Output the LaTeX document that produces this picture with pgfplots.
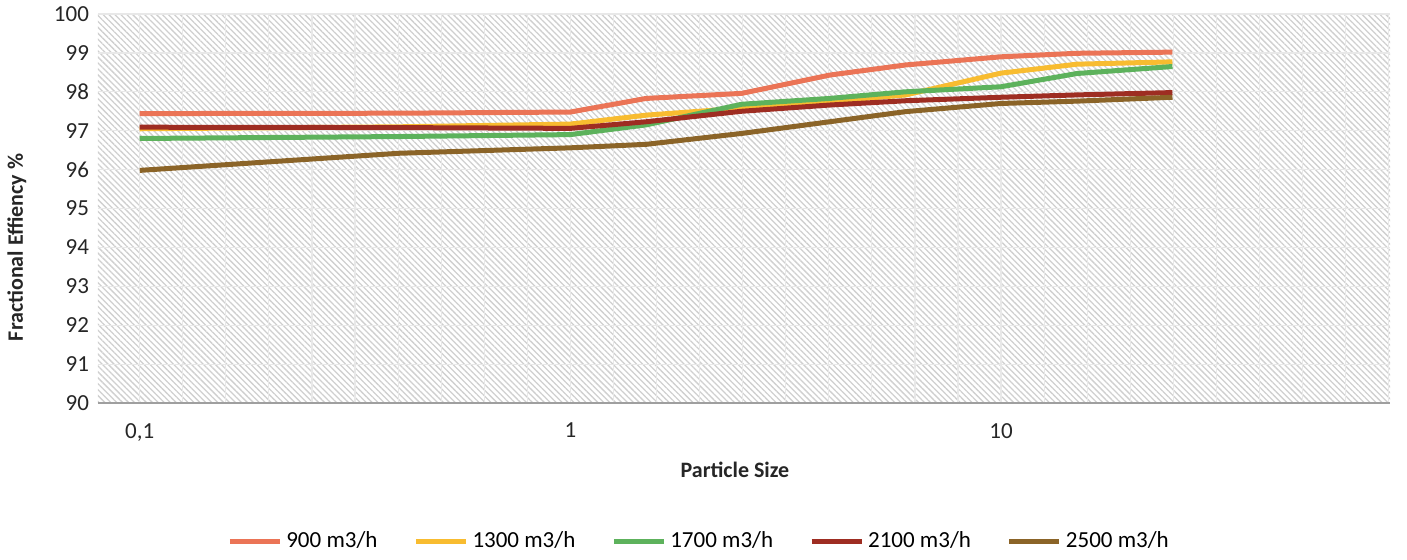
\documentclass[border=0pt]{standalone}
\usepackage{fontspec}
\setmainfont{Carlito}
\usepackage{pgfplots}
\usepackage{pgfplotstable}
\pgfplotsset{compat=1.18}
\usetikzlibrary{patterns.meta}

\definecolor{c900}{HTML}{EB7456}
\definecolor{c1300}{HTML}{F8BC30}
\definecolor{c1700}{HTML}{5DB25C}
\definecolor{c2100}{HTML}{9E2D22}
\definecolor{c2500}{HTML}{8B6428}

% particle size vs fractional efficiency, one column per air flow
\pgfplotstableread{
x     s900  s1300 s1700 s2100 s2500
0.1   97.44 97.05 96.80 97.09 95.98
0.4   97.45 97.10 96.85 97.08 96.42
1     97.48 97.17 96.90 97.06 96.56
1.5   97.83 97.40 97.15 97.23 96.65
2.5   97.96 97.58 97.68 97.50 96.93
4     98.43 97.75 97.83 97.66 97.23
6     98.69 97.92 98.00 97.77 97.49
10    98.90 98.48 98.13 97.86 97.70
15    98.99 98.71 98.47 97.92 97.76
25    99.02 98.77 98.65 97.98 97.86
}\datatable

\begin{document}
\begin{tikzpicture}
\useasboundingbox (-49pt,-78pt) rectangle (654.5pt,201.5pt);
\begin{axis}[
  scale only axis,
  width=646pt, height=194.5pt,
  xmode=log,
  xmin=0.08, xmax=80,
  ymin=90, ymax=100,
  xtick={0.1,1,10},
  xticklabels={{0,1},1,10},
  minor xtick={0.0794,0.1259,0.1585,0.1995,0.2512,0.3162,0.3981,0.5012,0.631,0.7943,
    1.259,1.585,1.995,2.512,3.162,3.981,5.012,6.31,7.943,
    12.59,15.85,19.95,25.12,31.62,39.81,50.12,63.1,79.43},
  ytick={90,91,...,100},
  major tick length=0pt, minor tick length=0pt,
  grid=both,
  major grid style={gray!18, line width=0.6pt},
  minor grid style={gray!18, line width=0.6pt},
  axis background/.style={pattern={Lines[angle=-45,distance=2.1pt,line width=0.65pt]}, pattern color=gray!38},
  axis x line*=bottom, axis y line*=left,
  y axis line style={draw=none},
  x axis line style={gray!75, line width=0.8pt},
  /pgf/number format/assume math mode=true,
  ticklabel style={font=\fontsize{11.5}{13}\selectfont, text=black!85},
  yticklabel style={xshift=-1pt},
  xticklabel style={yshift=-6.5pt},
  xlabel={Particle Size},
  xlabel style={at={(axis description cs:0.493,0)}, anchor=center, yshift=-33.5pt,
    font=\fontsize{11}{13}\selectfont\bfseries, text=black!85},
  ylabel={Fractional Effiency \%},
  ylabel style={at={(axis description cs:-0.0627,0.40)}, anchor=center,
    font=\fontsize{11}{13}\selectfont\bfseries, text=black!85},
  legend columns=5,
  legend style={at={(axis description cs:0.466,0)}, anchor=center, yshift=-69pt,
    draw=none, fill=none, font=\fontsize{11.5}{13}\selectfont,
    /tikz/every even column/.append style={column sep=16pt}},
  legend image code/.code={\draw[#1] (0pt,0pt) -- (25pt,0pt);},
  every axis plot/.append style={line width=2.5pt, line join=round},
]
\addplot[c900] table[x=x,y=s900]{\datatable};
\addlegendentry{900 m3/h}
\addplot[c1300] table[x=x,y=s1300]{\datatable};
\addlegendentry{1300 m3/h}
\addplot[c1700] table[x=x,y=s1700]{\datatable};
\addlegendentry{1700 m3/h}
\addplot[c2100] table[x=x,y=s2100]{\datatable};
\addlegendentry{2100 m3/h}
\addplot[c2500] table[x=x,y=s2500]{\datatable};
\addlegendentry{2500 m3/h}
\end{axis}
\end{tikzpicture}
\end{document}
